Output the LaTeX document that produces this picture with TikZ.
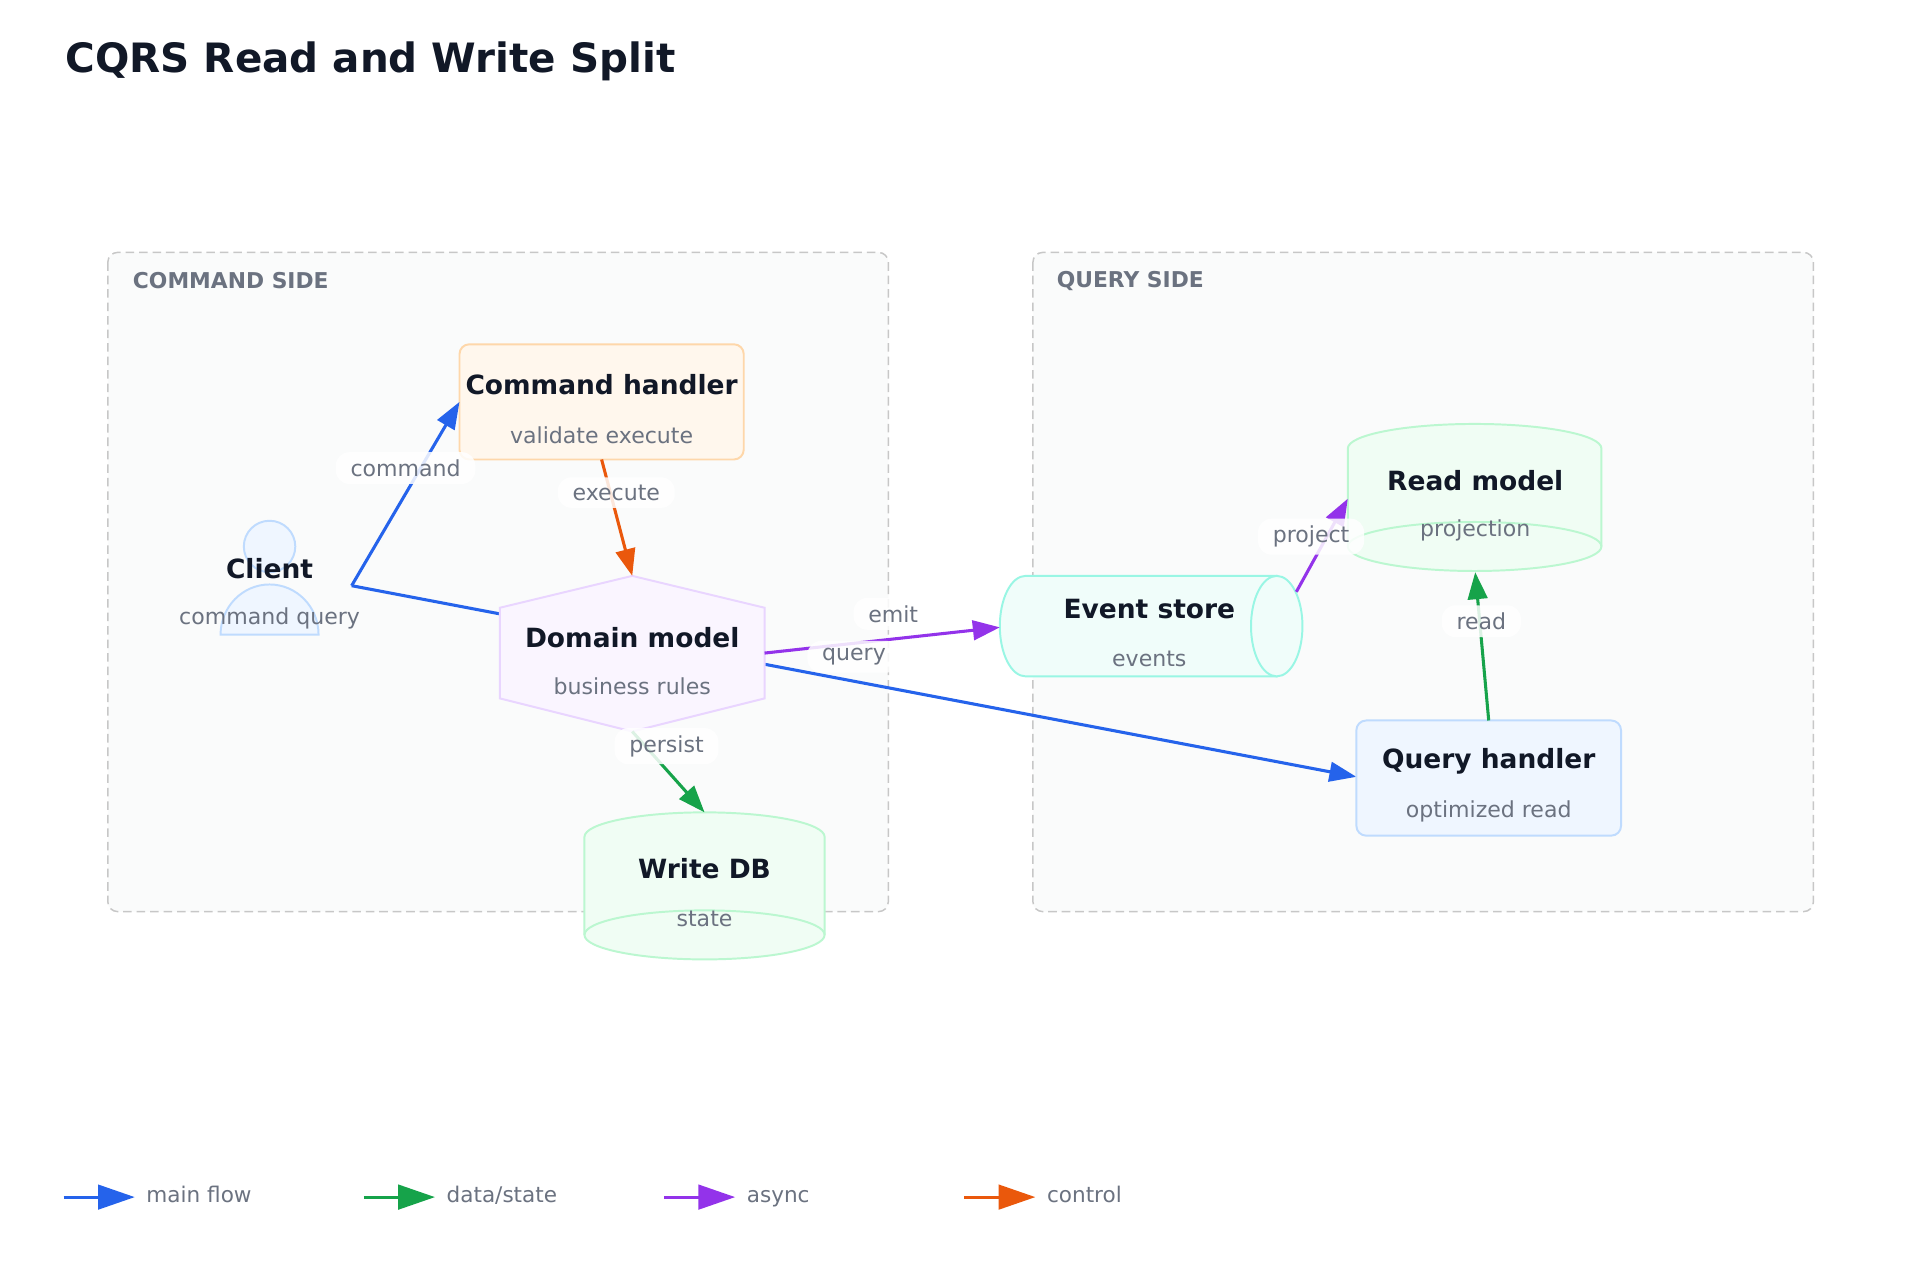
\documentclass[tikz,border=0pt]{standalone}
\usepackage{fontspec}
\setmainfont{DejaVu Sans}
\usetikzlibrary{arrows.meta,shapes.geometric}
\definecolor{ink}{HTML}{111827}
\definecolor{mute}{HTML}{6B7280}
\definecolor{cblue}{HTML}{2563EB}
\definecolor{cgreen}{HTML}{16A34A}
\definecolor{cpurple}{HTML}{9333EA}
\definecolor{corange}{HTML}{EA580C}
\definecolor{ofill}{HTML}{FFF7ED}\definecolor{ostroke}{HTML}{FED7AA}
\definecolor{pfill}{HTML}{FAF5FF}\definecolor{pstroke}{HTML}{E9D5FF}
\definecolor{gfill}{HTML}{F0FDF4}\definecolor{gstroke}{HTML}{BBF7D0}
\definecolor{tfill}{HTML}{F0FDFA}\definecolor{tstroke}{HTML}{99F6E4}
\definecolor{bfill}{HTML}{EFF6FF}\definecolor{bstroke}{HTML}{BFDBFE}
\definecolor{grpfill}{HTML}{FAFBFB}
\tikzset{
 x=1pt,y=-1pt,
 group/.style={draw=black!22,dash pattern=on 7pt off 4pt,line width=1.2pt,rounded corners=8pt,fill=grpfill},
 grouplabel/.style={anchor=west,text=mute,font=\fontsize{17.8}{20}\selectfont\bfseries},
 ttl/.style={text=ink,font=\fontsize{21.6}{24}\selectfont\bfseries},
 sub/.style={text=mute,font=\fontsize{18}{20}\selectfont},
 lbl/.style={fill=white,fill opacity=0.85,text opacity=1,rounded corners=11pt,text=mute,font=\fontsize{18}{20}\selectfont,inner xsep=12pt,inner ysep=6pt},
 shp/.style={line width=1.6pt},
 edge/.style={line width=2.5pt,-{Triangle[length=22pt,width=16pt]}},
 leg/.style={line width=2.5pt,-{Triangle[length=30pt,width=20pt]}},
}
\begin{document}
\begin{tikzpicture}
\useasboundingbox[fill=white] (0,0) rectangle (1567,1045);
\node[anchor=west,text=ink,font=\fontsize{33}{36}\selectfont\bfseries] (title) at (50,50) {CQRS Read and Write Split};
% groups
\draw[group] (88,206) rectangle (725,744);
\node[grouplabel] (gc) at (105,229) {COMMAND SIDE};
\draw[group] (843,206) rectangle (1480,744);
\node[grouplabel] (gq) at (859,229) {QUERY SIDE};
% edges behind
\coordinate (ce) at (287,478);
\coordinate (qw) at (1107,634);
\draw[edge,cblue] (ce) -- (qw);
% command handler
\draw[shp,fill=ofill,draw=ostroke,rounded corners=8pt] (375,281) rectangle (607,375);
\node[ttl] (ch) at (491,314) {Command handler};
\node[sub] (chs) at (491,355) {validate execute};
\coordinate (chw) at (375,328);
\coordinate (chs2) at (491,375);
% client
\draw[shp,fill=bfill,draw=bstroke] (220,446) circle (21);
\draw[shp,fill=bfill,draw=bstroke] (180,518) arc[start angle=180,end angle=360,x radius=40,y radius=41] -- cycle;
\node[ttl] (cl) at (220,464) {Client};
\node[sub] (cls) at (220,505) {command query};
% domain model
\draw[shp,fill=pfill,draw=pstroke] (516,470)--(624,496)--(624,570)--(516,597)--(408,570)--(408,496)--cycle;
\node[ttl] (dm) at (516,520) {Domain model};
\node[sub] (dms) at (516,560) {business rules};
\coordinate (dmn) at (516,470);
\coordinate (dme) at (624,533);
\coordinate (dmsb) at (516,597);
% write db
\draw[shp,fill=gfill,draw=gstroke] (477,683) -- (477,763) arc[start angle=180,end angle=0,x radius=98,y radius=20] -- (673,683) arc[start angle=0,end angle=-180,x radius=98,y radius=20] -- cycle;
\draw[shp,draw=gstroke] (477,763) arc[start angle=180,end angle=360,x radius=98,y radius=20];
\node[ttl] (wd) at (575,709) {Write DB};
\node[sub] (wds) at (575,750) {state};
\coordinate (wdt) at (575,663);
% event store
\draw[shp,fill=tfill,draw=tstroke] (1042,552) -- (837,552) arc[start angle=90,end angle=270,x radius=21,y radius=41] -- (1042,470) -- cycle;
\draw[shp,fill=tfill,draw=tstroke] (1042,511) ellipse[x radius=21,y radius=41];
\node[ttl] (es) at (938,497) {Event store};
\node[sub] (ess) at (938,538) {events};
\coordinate (esw) at (816,512);
\coordinate (esne) at (1058,483);
% read model
\draw[shp,fill=gfill,draw=gstroke] (1100,366) -- (1100,446) arc[start angle=180,end angle=0,x radius=103.5,y radius=20] -- (1307,366) arc[start angle=0,end angle=-180,x radius=103.5,y radius=20] -- cycle;
\draw[shp,draw=gstroke] (1100,446) arc[start angle=180,end angle=360,x radius=103.5,y radius=20];
\node[ttl] (rm) at (1204,392) {Read model};
\node[sub] (rms) at (1204,433) {projection};
\coordinate (rmw) at (1100,407);
\coordinate (rmb) at (1204,467);
% query handler
\draw[shp,fill=bfill,draw=bstroke,rounded corners=8pt] (1107,588) rectangle (1323,682);
\node[ttl] (qh) at (1215,621) {Query handler};
\node[sub] (qhs) at (1215,662) {optimized read};
\coordinate (qhn) at (1215,588);
% edges
\draw[edge,cblue] (ce) -- (chw);
\draw[edge,corange] (chs2) -- (dmn);
\draw[edge,cpurple] (dme) -- (esw);
\draw[edge,cpurple] (esne) -- (rmw);
\draw[edge,cgreen] (dmsb) -- (wdt);
\draw[edge,cgreen] (qhn) -- (rmb);
% labels
\node[lbl] (l1) at (331,382) {command};
\node[lbl] (l2) at (503,402) {execute};
\node[lbl] (l3) at (729,501) {emit};
\node[lbl] (l4) at (697,536) {query};
\node[lbl] (l5) at (1070,438) {project};
\node[lbl] (l6) at (544,609) {persist};
\node[lbl] (l7) at (1209,507) {read};
% legend
\foreach \x/\c/\t/\n in {52/cblue/main flow/a,297/cgreen/data\slash state/b,542/cpurple/async/c,787/corange/control/d}{
 \coordinate (s\n) at (\x,977);
 \coordinate (e\n) at (\x+58,977);
 \draw[leg,\c] (s\n) -- (e\n);
 \node[anchor=west,text=mute,font=\fontsize{17.6}{20}\selectfont] (t\n) at (\x+64,977) {\strut\t};
}
\end{tikzpicture}
\end{document}
